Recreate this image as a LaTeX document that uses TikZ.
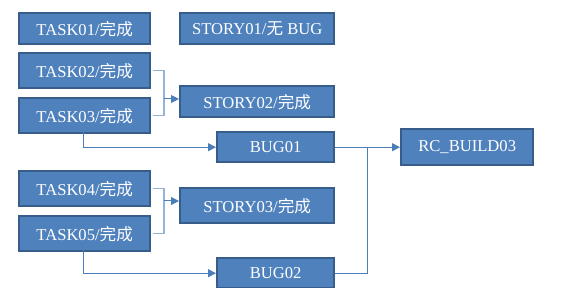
\documentclass[tikz,border=0pt]{standalone}
\usepackage{fontspec}
\setmainfont{Liberation Serif}
\newfontfamily\cjk{Noto Sans CJK SC}
\usetikzlibrary{arrows.meta}
\definecolor{boxfill}{HTML}{4F81BD}
\definecolor{boxline}{HTML}{385D8A}
\definecolor{conn}{HTML}{4A7EBB}
\definecolor{connlight}{HTML}{95B3D7}
\tikzset{
  tbox/.style={draw=boxline, line width=2.4pt, fill=boxfill, text=white, font=\fontsize{16.6}{18}\selectfont, inner sep=0pt, anchor=north west},
  conline/.style={draw=conn, line width=1pt},
  lightline/.style={draw=connlight, line width=1.2pt},
  arr/.style={conline, -{Triangle[length=8pt,width=8pt]}}
}
\begin{document}
\begin{tikzpicture}[x=1pt,y=-1pt]
\useasboundingbox (0,0) rectangle (576,288);
\node[tbox, minimum width=131pt, minimum height=31pt] (t1) at (18,12) {TASK01/{\cjk 完成}};
\node[tbox, minimum width=154pt, minimum height=31pt] (s1) at (179,12) {STORY01/{\cjk 无} BUG};
\node[tbox, minimum width=131pt, minimum height=35pt] (t2) at (18,52) {TASK02/{\cjk 完成}};
\node[tbox, minimum width=131pt, minimum height=35pt] (t3) at (18,97) {TASK03/{\cjk 完成}};
\node[tbox, minimum width=154pt, minimum height=31pt] (s2) at (179,85) {STORY02/{\cjk 完成}};
\node[tbox, minimum width=117pt, minimum height=30pt] (b1) at (216,131) {BUG01};
\node[tbox, minimum width=131pt, minimum height=35pt] (t4) at (18,170) {TASK04/{\cjk 完成}};
\node[tbox, minimum width=131pt, minimum height=35pt] (t5) at (18,215) {TASK05/{\cjk 完成}};
\node[tbox, minimum width=154pt, minimum height=35pt] (s3) at (179,187) {STORY03/{\cjk 完成}};
\node[tbox, minimum width=117pt, minimum height=30pt] (b2) at (216,257) {BUG02};
\node[tbox, minimum width=132pt, minimum height=36pt] (rc) at (400,128) {RC\_BUILD03};
\coordinate (j1) at (164,99);
\coordinate (j2) at (164,201);
\coordinate (jx) at (367,0);
\coordinate (j3) at (b1.east -| jx);
% STORY02 connectors
\draw[lightline] (t2.east) ++(1.2,0) -| (j1);
\draw[lightline] (t3.east) ++(1.2,0) -| (j1);
\draw[arr] (j1) -- (s2.west |- j1);
% STORY03 connectors
\draw[lightline] (t4.east) ++(1.2,0) -| (j2);
\draw[lightline] (t5.east) ++(1.2,0) -| (j2);
\draw[arr] (j2) -- (s3.west |- j2);
% BUG connectors
\draw[arr] (83,132) |- (b1.west);
\draw[arr] (83,250) |- (b2.west);
% RC connectors
\draw[conline] (b1.east) -- (j3);
\draw[conline] (b2.east) -| (j3);
\draw[arr] (j3) -- (rc.west |- j3);
\end{tikzpicture}
\end{document}
